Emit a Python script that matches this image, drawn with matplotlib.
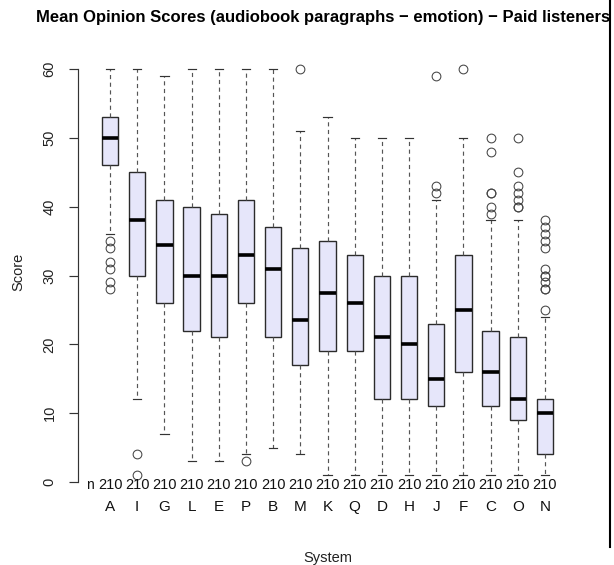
import matplotlib
matplotlib.use("Agg")
import matplotlib.pyplot as plt
from matplotlib.lines import Line2D
from matplotlib.patches import Rectangle
from matplotlib.transforms import blended_transform_factory

plt.rcParams['font.family'] = ['Liberation Sans', 'DejaVu Sans']

# Systems in display order and their box statistics
systems = ["A", "I", "G", "L", "E", "P", "B", "M", "K",
           "Q", "D", "H", "J", "F", "C", "O", "N"]
whislo = [36, 12, 7, 3, 3, 4, 5, 4, 1, 1, 1, 1, 1, 1, 1, 1, 1]
q1 = [46, 30, 26, 22, 21, 26, 21, 17, 19, 19, 12, 12, 11, 16, 11, 9, 4]
median = [50, 38, 34.5, 30, 30, 33, 31, 23.5, 27.5, 26, 21, 20, 15, 25, 16, 12, 10]
q3 = [53, 45, 41, 40, 39, 41, 37, 34, 35, 33, 30, 30, 23, 33, 22, 21, 12]
whishi = [60, 60, 59, 60, 60, 60, 60, 51, 53, 50, 50, 50, 41, 50, 38, 38, 24]
outliers = [
    [35, 34, 32, 31, 29, 28],
    [4, 1],
    [],
    [],
    [],
    [3],
    [],
    [60],
    [],
    [],
    [],
    [],
    [59, 43, 42],
    [60],
    [50, 48, 42, 42, 40, 39],
    [50, 45, 43, 42, 41, 40, 40],
    [38, 37, 36, 35, 34, 31, 30, 30, 29, 28, 28, 25],
]
n_obs = [210] * len(systems)
yticks = [0, 10, 20, 30, 40, 50, 60]

title = "Mean Opinion Scores (audiobook paragraphs \u2212 emotion) \u2212 Paid listeners"

W, H = 614, 565
fig = plt.figure(figsize=(W / 100, H / 100), dpi=100)
ax = fig.add_axes([78 / W, 1 - 498.5 / H, 499 / W, 446 / H])

stats = []
for i, s in enumerate(systems):
    stats.append(dict(label=s, whislo=whislo[i], q1=q1[i], med=median[i],
                      q3=q3[i], whishi=whishi[i], fliers=outliers[i]))

positions = list(range(1, len(systems) + 1))
ax.bxp(stats, positions=positions, widths=0.6, capwidths=0.3,
       patch_artist=True, showfliers=True,
       boxprops=dict(facecolor="#E6E6FA", edgecolor="#2b2b2b", linewidth=1.0),
       medianprops=dict(color="black", linewidth=2.6, solid_capstyle="butt"),
       whiskerprops=dict(color="#555555", linewidth=0.85, linestyle=(0, (3.5, 3))),
       capprops=dict(color="#333333", linewidth=0.85),
       flierprops=dict(marker="o", markerfacecolor="none",
                       markeredgecolor="#444444", markersize=6.3,
                       markeredgewidth=0.75, linestyle="none"))

ax.set_xlim(0.5 - 0.68, len(systems) + 0.5 + 0.68)
ax.set_ylim(-2.4, 62.4)

for side in ("top", "right", "bottom"):
    ax.spines[side].set_visible(False)
ax.spines["left"].set_bounds(0, 60)
ax.spines["left"].set_linewidth(0.85)
ax.spines["left"].set_color("#333333")

ax.set_yticks(yticks)
ax.set_yticklabels([str(v) for v in yticks], rotation=90, va="center")
ax.tick_params(axis="y", length=6.5, width=0.85, color="#333333",
               pad=9, labelsize=10.5, labelcolor="#222222")
ax.set_xticks([])

# sample sizes and system names below the boxes
tr = blended_transform_factory(ax.transData, ax.transAxes)
ax.text(0.27, (498.5 - 485) / 446, "n", transform=tr, ha="center",
        va="center", fontsize=10, color="#111111")
for x, n, s in zip(positions, n_obs, systems):
    ax.text(x, (498.5 - 485) / 446, str(n), transform=tr, ha="center",
            va="center", fontsize=10.5, color="#111111")
    ax.text(x, (498.5 - 507) / 446, s, transform=tr, ha="center",
            va="center", fontsize=11, color="#111111", clip_on=False)

fig.text(18 / W, 1 - 272 / H, "Score", rotation=90, ha="center",
         va="center", fontsize=10.5, color="#222222")
fig.text(327.5 / W, 1 - 558 / H, "System", ha="center", va="center",
         fontsize=10.5, color="#222222")
fig.text(36 / W, 1 - 17.5 / H, title, ha="left", va="center",
         fontsize=12.0, fontweight="bold", color="black")

# frame edge on the right side of the figure
fig.patches.append(Rectangle((611 / W, 0), 3 / W, 1, transform=fig.transFigure,
                             facecolor="white", edgecolor="none", zorder=5))
fig.lines.append(Line2D([610 / W, 610 / W], [1 - 547 / H, 1],
                        transform=fig.transFigure, color="black",
                        linewidth=1.5, zorder=6))

fig.savefig("out.png", dpi=100, facecolor="white")
